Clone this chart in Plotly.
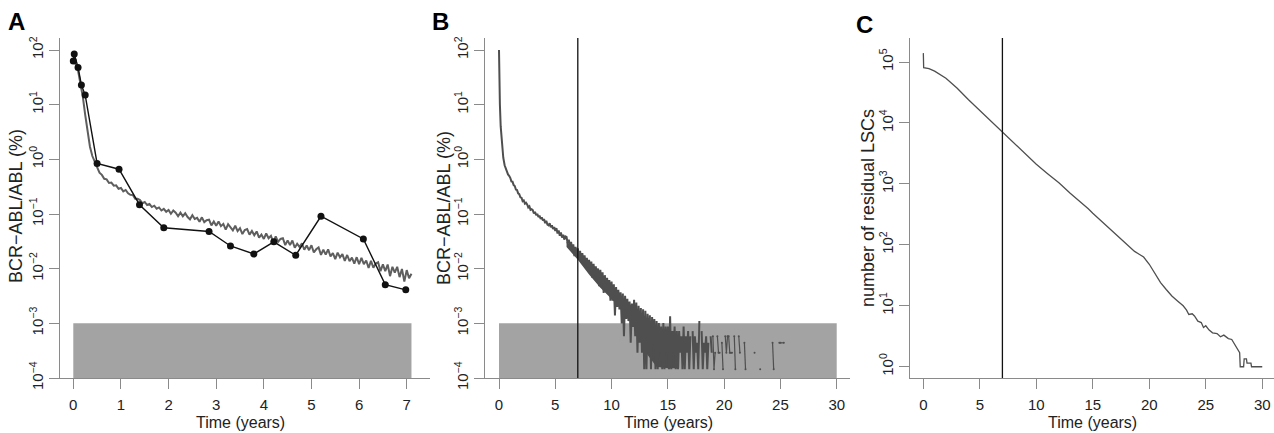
import numpy as np
import plotly.graph_objects as go

# ---- data ----
# A: simulated BCR-ABL/ABL (%) on a 0.05 y grid, and patient measurements
a_sim_step = 0.05
a_sim_v = [62, 55, 42, 25, 14, 6.5, 3.0, 1.7, 1.15, 0.88,
           0.72, 0.57, 0.52, 0.44, 0.43, 0.37, 0.375, 0.33, 0.335, 0.29,
           0.30, 0.26, 0.275, 0.24, 0.225, 0.222, 0.19, 0.19, 0.18, 0.158,
           0.166, 0.146, 0.152, 0.134, 0.142, 0.125, 0.132, 0.116, 0.124, 0.110,
           0.119, 0.101, 0.116, 0.106, 0.091, 0.106, 0.091, 0.103, 0.088, 0.080,
           0.095, 0.081, 0.085, 0.072, 0.087, 0.071, 0.077, 0.079, 0.062, 0.073,
           0.061, 0.073, 0.060, 0.066, 0.052, 0.065, 0.057, 0.050, 0.061, 0.0485,
           0.055, 0.043, 0.051, 0.053, 0.042, 0.049, 0.041, 0.048, 0.037, 0.042,
           0.035, 0.044, 0.036, 0.040, 0.030, 0.039, 0.031, 0.035, 0.036, 0.027,
           0.033, 0.027, 0.0328, 0.0241, 0.0286, 0.025, 0.0292, 0.0222, 0.0265, 0.0218,
           0.0268, 0.0198, 0.0226, 0.0245, 0.0179, 0.0222, 0.0181, 0.0225, 0.0168, 0.0193,
           0.0150, 0.0197, 0.0161, 0.0184, 0.0139, 0.0178, 0.0137, 0.0159, 0.0124, 0.0162,
           0.0121, 0.0157, 0.0121, 0.0141, 0.0103, 0.0139, 0.0104, 0.0124, 0.0131, 0.0090,
           0.0120, 0.0090, 0.0119, 0.0073, 0.0108, 0.0085, 0.0108, 0.0070, 0.0099, 0.0058,
           0.0094, 0.0067, 0.0081]
a_pat_t = [0, 0.02, 0.1, 0.17, 0.25, 0.5, 0.96, 1.39, 1.9, 2.85, 3.3, 3.79,
           4.21, 4.67, 5.2, 6.09, 6.55, 6.98]
a_pat_v = [63, 85, 48, 23, 15, 0.84, 0.66, 0.148, 0.056, 0.048, 0.026, 0.0186,
           0.031, 0.0176, 0.091, 0.035, 0.0051, 0.0041]

# B: long simulation, early part, 0.1 y grid from 1 y, then sparse tail
b_early_t = [0, 0.03, 0.08, 0.15, 0.25, 0.38, 0.5, 0.65, 0.8, 0.9]
b_early_v = [100, 30, 10, 4.0, 1.9, 1.07, 0.78, 0.62, 0.53, 0.50]
b_grid_start = 1.0
b_grid_step = 0.1
b_grid_v = [
    0.46, 0.395, 0.39, 0.338, 0.325, 0.280, 0.275, 0.238, 0.230, 0.202,
    0.198, 0.172, 0.177, 0.155, 0.161, 0.150, 0.132, 0.138, 0.119, 0.122,
    0.118, 0.102, 0.110, 0.095, 0.101, 0.088, 0.094, 0.081, 0.087, 0.076,
    0.081, 0.068, 0.075, 0.064, 0.062, 0.068, 0.057, 0.062, 0.053, 0.058,
    0.049, 0.055, 0.044, 0.050, 0.040, 0.046, 0.037, 0.042, 0.034, 0.039,
    0.038, 0.029, 0.034, 0.026, 0.031, 0.023, 0.028, 0.017, 0.025, 0.0185,
    0.0235, 0.0163, 0.0212, 0.0145, 0.0192, 0.0133, 0.0175, 0.0118, 0.0158, 0.0106,
    0.0145, 0.0090, 0.0135, 0.0068, 0.0122, 0.0075, 0.0110, 0.0066, 0.0101, 0.0048,
    0.0095, 0.0052, 0.0086, 0.0036, 0.0076, 0.0042, 0.0068, 0.0037, 0.0062, 0.0026,
    0.0058, 0.0026, 0.0052, 0.0014, 0.0046, 0.0020, 0.0041, 0.0018, 0.0037, 0.0010,
    0.0035, 0.00058, 0.0032, 0.0012, 0.0028, 0.0011, 0.0025, 0.00044, 0.0023, 0.00086,
    0.0027, 0.00058, 0.0024, 0.00029, 0.0021, 0.00044, 0.0019, 0.00029, 0.0018, 0.000145,
    0.0017, 0.000145, 0.0015, 0.00029, 0.0014, 0.000145, 0.0013, 0.00044, 0.0012, 0.000145,
    0.0011, 0.000145, 0.00101, 0.00029, 0.00087, 0.000145, 0.00101, 0.000145, 0.00087, 0.00029,
    0.00087, 0.000145, 0.00135, 0.000145, 0.00072, 0.00029, 0.00087, 0.000145, 0.00072, 0.000145,
    0.00072, 0.00029, 0.00058, 0.000145, 0.00087, 0.000145, 0.00058, 0.00029, 0.00072, 0.000145,
    0.00058, None, 0.00072, 0.000145, 0.00058, 0.00029, 0.00044, 0.000145, 0.0011, None,
    0.00072, 0.000145, 0.00044, 0.00029, 0.00058, 0.000145, 0.00044, None, 0.00058, 0.00029]
# solid core of the noisy band between 6 and 16 years
b_band_t = [6, 7, 8, 9, 10, 11, 12, 13, 14, 15, 16]
b_band_hi = [0.031, 0.021, 0.0135, 0.0085, 0.0048, 0.0029, 0.0019, 0.0012, 0.00085, 0.00065, 0.00045]
b_band_lo = [0.025, 0.0145, 0.0078, 0.0045, 0.0028, 0.0017, 0.00095, 0.0003, 0.00016, 0.00015, 0.00015]
b_late_t = [19.0, 19.1, 19.2, 19.3, 19.4, 19.5, 19.6, 19.7, 19.8, 19.9,
            20.0, 20.1, 20.2, 20.3, 20.4, 20.5, 20.6, 20.7, 20.8, 20.9,
            21.0, 21.1, 21.3, 21.4, 21.5, 21.8, 21.9, 22.0, 22.7, 22.8,
            23.2, 23.3, 24.3, 24.4, 24.5, 24.9, 25.0, 25.3, 25.4]
b_late_v = [0.00058, 0.000145, 0.00029, None, 0.00058, 0.00029, 0.00029, None, 0.00044, 0.000145,
            None, 0.00058, 0.00029, 0.00058, 0.00058, 0.00029, 0.00029, 0.00029, None, 0.00058,
            0.000145, None, 0.00058, 0.00029, None, 0.00044, 0.000145, None, 0.00029, None,
            0.000145, None, 0.00044, 0.000145, None, 0.00044, 0.00044, 0.00044, None]

# C: number of residual leukemic stem cells
c_t = [0, 0.03, 0.5, 1, 2, 3, 4, 5, 6, 7, 8, 9, 10, 11, 12, 13, 14, 14.6, 15,
       16, 17, 18, 18.7, 19, 19.5, 20, 20.5, 21, 21.5, 22, 22.5, 23, 23.3, 23.5,
       23.8, 24, 24.3, 24.6, 24.8, 25, 25.3, 25.6, 26, 26.3, 26.6, 27, 27.3,
       27.6, 27.9, 28.0, 28.05, 28.35, 28.4, 28.6, 28.65, 29.0, 29.05, 30.0]
c_v = [1.4e5, 8.1e4, 7.8e4, 7.1e4, 5.4e4, 3.7e4, 2.4e4, 1.6e4, 1.07e4, 7.1e3,
       4.9e3, 3.2e3, 2.1e3, 1.47e3, 1.04e3, 700, 490, 390, 330,
       222, 150, 103, 78, 72, 63, 48, 34, 24, 18.5, 14.5, 12, 10, 8.5, 7.2,
       7.4, 6.8, 5.6, 5.3, 4.4, 4.7, 4.0, 3.6, 3.5, 3.1, 3.3, 2.9, 2.8,
       2.3, 1.9, 1.7, 1.0, 1.0, 1.35, 1.35, 1.15, 1.15, 1.0, 1.0]

detect_limit = 1e-3
y_floor = 1e-4
a_end, b_end = 7.1, 30
stop_time = 7

a_sim_t = np.round(np.arange(len(a_sim_v)) * a_sim_step, 2)
b_grid_t = np.round(b_grid_start + np.arange(len(b_grid_v)) * b_grid_step, 1)

# ---- styling ----
W, H = 1274, 433      # target picture size; positions below are in these pixels
H_PAGE = 446          # the page gets squeezed to 433 px tall when photographed
FONT = "Liberation Sans, Arial, Helvetica, sans-serif"
AX = "#8a8a8a"
TXT = "#222222"
BAND = "#a3a3a3"
SIM = "#5e5e5e"
DARK = "#4f4f4f"


def px(x):
    return x / W


def py(y):
    return 1 - y / H


def sup(k):
    return "10<sup>%s</sup>" % (str(k).replace("-", "\u2212"))


def xaxis(dom, rng, ticks, anchor):
    return dict(domain=dom, range=rng, anchor=anchor, tickvals=ticks,
                showline=True, linecolor=AX, linewidth=1, ticks="outside",
                ticklen=10, tickcolor=AX, showgrid=False, zeroline=False,
                ticklabelstandoff=3,
                tickfont=dict(size=15, color=TXT, family=FONT))


def yaxis(dom, rng, exps, anchor):
    return dict(domain=dom, range=rng, anchor=anchor, type="log",
                tickvals=[10.0 ** k for k in exps], ticktext=[sup(k) for k in exps],
                tickangle=-90, showline=True, linecolor=AX, linewidth=1,
                ticks="outside", ticklen=10, tickcolor=AX, showgrid=False,
                zeroline=False, tickfont=dict(size=15, color=TXT, family=FONT))


def band(xend, xa, ya):
    return go.Scatter(x=[0, xend, xend, 0, 0],
                      y=[y_floor, y_floor, detect_limit, detect_limit, y_floor],
                      fill="toself", fillcolor=BAND, mode="lines",
                      line=dict(width=0, color=BAND), xaxis=xa, yaxis=ya,
                      hoverinfo="skip")


fig = go.Figure()

# panel A
fig.add_trace(band(a_end, "x", "y"))
fig.add_trace(go.Scatter(x=a_sim_t, y=a_sim_v, mode="lines",
                         line=dict(color=SIM, width=2), xaxis="x", yaxis="y"))
fig.add_trace(go.Scatter(x=a_pat_t, y=a_pat_v, mode="lines+markers",
                         line=dict(color="#111111", width=1.4),
                         marker=dict(color="#111111", size=7), xaxis="x", yaxis="y"))

# panel B
fig.add_trace(band(b_end, "x2", "y2"))
fig.add_trace(go.Scatter(x=b_band_t, y=b_band_lo, mode="lines",
                         line=dict(width=0, color=DARK), xaxis="x2", yaxis="y2"))
fig.add_trace(go.Scatter(x=b_band_t, y=b_band_hi, mode="lines", fill="tonexty",
                         fillcolor=DARK, line=dict(width=0, color=DARK),
                         xaxis="x2", yaxis="y2"))
fig.add_trace(go.Scatter(x=b_early_t + list(b_grid_t), y=b_early_v + b_grid_v,
                         mode="lines", line=dict(color=DARK, width=2),
                         connectgaps=False, xaxis="x2", yaxis="y2"))
fig.add_trace(go.Scatter(x=b_late_t, y=b_late_v, mode="lines+markers",
                         line=dict(color=DARK, width=1.2),
                         marker=dict(color=DARK, size=2),
                         connectgaps=False, xaxis="x2", yaxis="y2"))

# panel C
fig.add_trace(go.Scatter(x=c_t, y=c_v, mode="lines",
                         line=dict(color=DARK, width=1.3),
                         xaxis="x3", yaxis="y3"))

for xr, yr in [("x2", "y2 domain"), ("x3", "y3 domain")]:
    fig.add_shape(type="line", xref=xr, yref=yr, x0=stop_time, x1=stop_time,
                  y0=0, y1=1, line=dict(color="#111111", width=1.3))

ydom = [py(377), py(37)]
fig.update_layout(
    width=W, height=H_PAGE, margin=dict(l=0, r=0, t=0, b=0),
    paper_bgcolor="white", plot_bgcolor="white", showlegend=False,
    font=dict(family=FONT, color=TXT),
    xaxis=xaxis([px(60), px(430)], [-0.279, 7.489], list(range(8)), "y"),
    yaxis=yaxis(ydom, [-4, 2.22], [2, 1, 0, -1, -2, -3, -4], "x"),
    xaxis2=xaxis([px(485), px(850)], [-1.244, 31.18], [0, 5, 10, 15, 20, 25, 30], "y2"),
    yaxis2=yaxis(ydom, [-4, 2.22], [2, 1, 0, -1, -2, -3, -4], "x2"),
    xaxis3=xaxis([px(910), 1.0], [-1.18, 31.04], [0, 5, 10, 15, 20, 25, 30], "y3"),
    yaxis3=yaxis(ydom, [-0.185, 5.394], [5, 4, 3, 2, 1, 0], "x3"),
)

notes = [
    ("A", 16.5, 20.5, 0, 24, True),
    ("B", 440, 21, 0, 24, True),
    ("C", 865, 24, 0, 24, True),
    ("BCR\u2212ABL/ABL (%)", 16, 205, -90, 18, False),
    ("BCR\u2212ABL/ABL (%)", 444, 207, -90, 18, False),
    ("number of residual LSCs", 868, 207, -90, 18, False),
    ("Time (years)", 240, 421, 0, 16, False),
    ("Time (years)", 668, 421, 0, 16, False),
    ("Time (years)", 1092, 421, 0, 16, False),
]
for text, x, y, ang, size, bold in notes:
    fig.add_annotation(text="<b>%s</b>" % text if bold else text,
                       x=px(x), y=py(y), xref="paper", yref="paper",
                       xanchor="center", yanchor="middle", textangle=ang,
                       showarrow=False,
                       font=dict(size=size, color="#000000" if bold else TXT, family=FONT))

# no page margin, so the figure sits at the window's corner
page_js = ("document.body.style.margin='0';"
           "document.body.style.overflow='hidden';")
fig.write_html("out.html", post_script=page_js, config={"displayModeBar": False})
